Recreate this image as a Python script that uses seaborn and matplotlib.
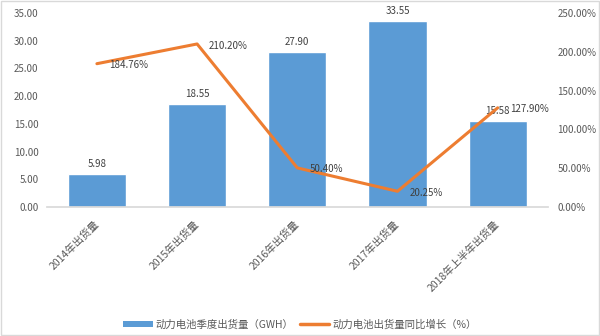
import matplotlib
matplotlib.use("Agg")
import matplotlib.pyplot as plt
import matplotlib.transforms as mtransforms
import seaborn as sns
import pandas as pd

categories = ["2014年出货量", "2015年出货量", "2016年出货量", "2017年出货量", "2018年上半年出货量"]
shipments = [5.98, 18.55, 27.90, 33.55, 15.58]
growth = [184.76, 210.20, 50.40, 20.25, 127.90]
bar_labels = ["5.98", "18.55", "27.90", "33.55", "15.58"]
growth_labels = ["184.76%", "210.20%", "50.40%", "20.25%", "127.90%"]

sns.set_theme(style="white")
plt.rcParams['font.family'] = ['Noto Sans CJK SC', 'DejaVu Sans']

df = pd.DataFrame({"cat": categories, "ship": shipments, "growth": growth})

fig = plt.figure(figsize=(6.0, 3.36), dpi=100)
ax = fig.add_axes([0.078, 0.384, 0.835, 0.577])
blue = "#5B9BD5"
orange = "#ED7D31"
sns.barplot(data=df, x="cat", y="ship", color=blue, width=0.58, ax=ax,
            saturation=1, legend=False)
ax.set_ylim(0, 35)
ax.set_yticks([0, 5, 10, 15, 20, 25, 30, 35])
ax.set_yticklabels([f"{v:.2f}" for v in ax.get_yticks()], fontsize=7, color="#595959")
ax.set_xlabel("")
ax.set_ylabel("")
ax.set_xticks(range(len(categories)))
ax.set_xticklabels(categories, rotation=45, ha="right", va="center", rotation_mode="anchor",
                   fontsize=7.5, color="#595959")
shift = mtransforms.ScaledTranslation(6 / 72, 0, fig.dpi_scale_trans)
for lab in ax.get_xticklabels():
    lab.set_transform(lab.get_transform() + shift)
for s in ["top", "right", "left"]:
    ax.spines[s].set_visible(False)
ax.spines["bottom"].set_color("#D9D9D9")
ax.tick_params(axis="y", length=0, pad=6)
ax.tick_params(axis="x", length=0, pad=11)
ax.set_xlim(-0.5, 4.5)
for i, (v, t) in enumerate(zip(shipments, bar_labels)):
    ax.text(i, v + 1.8, t, ha="center", va="center", fontsize=7, color="#404040")

ax2 = ax.twinx()
sns.lineplot(x=list(range(len(categories))), y=growth, color=orange, linewidth=2.2,
             ax=ax2, legend=False)
ax2.set_ylim(0, 250)
ax2.set_yticks([0, 50, 100, 150, 200, 250])
ax2.set_yticklabels([f"{v:.2f}%" for v in [0, 50, 100, 150, 200, 250]], fontsize=7, color="#595959")
for s in ["top", "right", "left", "bottom"]:
    ax2.spines[s].set_visible(False)
ax2.tick_params(axis="y", length=0, pad=7)
ax2.set_ylabel("")
for i, (v, t) in enumerate(zip(growth, growth_labels)):
    ax2.text(i + 0.12, v - 2, t, ha="left", va="center", fontsize=7, color="#404040")

from matplotlib.patches import Patch
from matplotlib.lines import Line2D
handles = [Patch(facecolor=blue, edgecolor="none"),
           Line2D([0], [0], color=orange, linewidth=2.5)]
labels = ["动力电池季度出货量（GWH）", "动力电池出货量同比增长（%）"]
fig.legend(handles, labels, loc="center", bbox_to_anchor=(0.5, 0.035), ncol=2,
           frameon=False, fontsize=7.5, handlelength=2.8, handleheight=0.5,
           columnspacing=0.6, handletextpad=0.3, labelcolor="#595959")

border = plt.Rectangle((0.002, 0.002), 0.996, 0.996, transform=fig.transFigure,
                       fill=False, edgecolor="#D9D9D9", linewidth=1)
fig.patches.append(border)

fig.savefig("out.png", dpi=100)
